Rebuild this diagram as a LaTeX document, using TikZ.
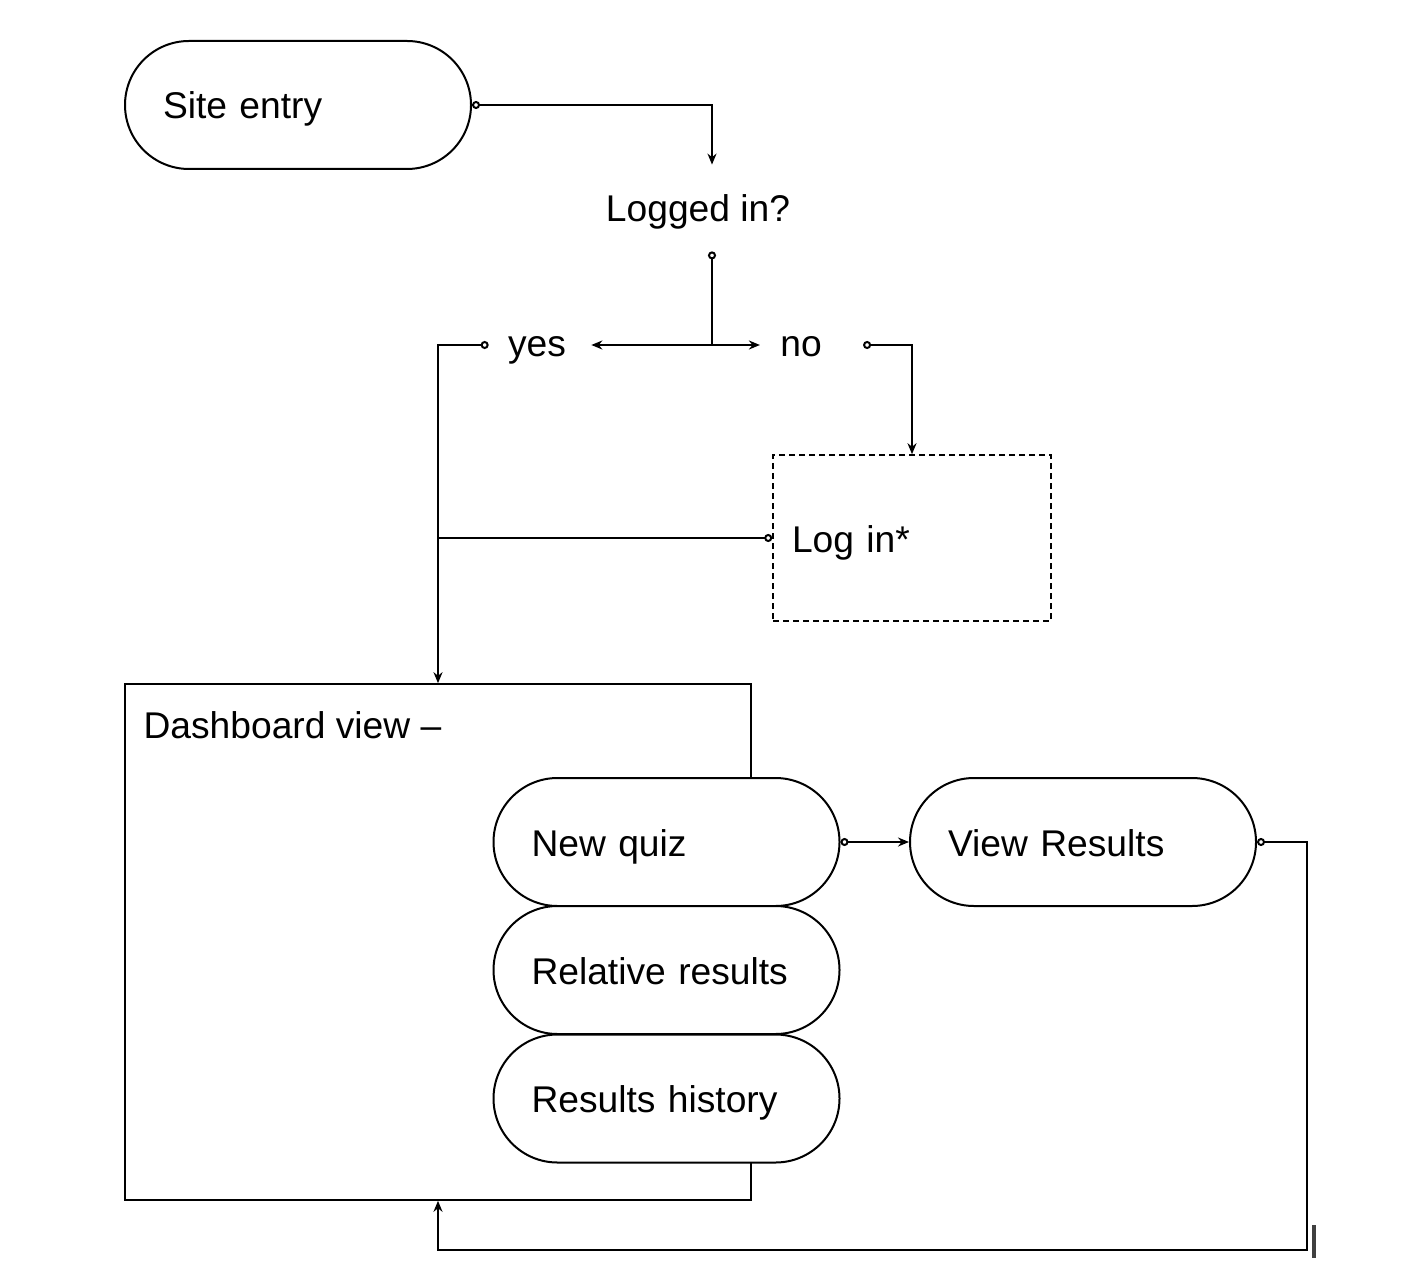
\documentclass[tikz,border=0pt]{standalone}
\usepackage{fontspec}
\setmainfont{Liberation Sans}
\usetikzlibrary{arrows.meta, positioning, calc}

\begin{document}
\begin{tikzpicture}[
        x=0.5pt, y=-0.5pt,
        every node/.style={font=\fontsize{18.6pt}{22pt}\selectfont, text height=16pt, text depth=2pt},
        pill/.style={rectangle, draw=black, line width=1pt, rounded corners=32pt, minimum width=173pt, minimum height=64pt, text width=135pt, inner xsep=19pt, align=left, fill=white},
        loginbox/.style={rectangle, draw=black, line width=0.8pt, dash pattern=on 3pt off 2pt, minimum width=139pt, minimum height=83pt, text width=120pt, inner xsep=9.5pt, align=left},
        panel/.style={rectangle, draw=black, line width=0.8pt, minimum width=313pt, minimum height=258pt, inner sep=0pt},
        plain/.style={inner sep=0pt},
        answer/.style={inner sep=0pt, text height=14pt, text depth=2pt},
        question/.style={inner sep=0pt, minimum height=43pt},
        tap/.style={{Circle[open, length=4pt]}-, line width=1pt},
        link/.style={{Circle[open, length=4pt]}-{Stealth[length=5.5pt, width=4.5pt]}, line width=1pt},
        arrow/.style={-{Stealth[length=5.5pt, width=4.5pt]}, line width=1pt}
    ]
    \useasboundingbox (0,0) rectangle (1422,1272);

    % Nodes
    \node[pill] (site) at (298,105) {Site entry};
    \node[question] (logged) at (698,208) {Logged in?};
    \coordinate (fork) at (712,345);
    \node[answer] (yes) at (537,345) {yes};
    \node[answer] (no) at (801,345) {no};
    \node[loginbox] (login) at (912,538) {Log in*};

    \node[panel] (dash) at (438,942) {};
    \node[plain, anchor=west] (dashlabel) at ($(dash.north west)+(19,41)$) {Dashboard view –};

    \node[pill] (newquiz) at (666.5,842) {New quiz};
    \node[pill] (relres) at (666.5,970) {Relative results};
    \node[pill] (history) at (666.5,1098.5) {Results history};
    \node[pill] (view) at (1083,842) {View Results};
    \coordinate (back) at (1307,1250);

    % Arrows
    \draw[link] (site.east) -| (logged.north -| fork);
    \draw[tap] (logged.south -| fork) -- (fork);
    \draw[arrow] (fork) -- ($(yes.east)+(25,0)$);
    \draw[arrow] (fork) -- ($(no.west)+(-20,0)$);
    \draw[link] ($(yes.west)+(-19,0)$) -| (dash.north);
    \draw[link] ($(no.east)+(41,0)$) -| (login.north);
    \draw[tap] (login.west) -- (login.west -| dash.north);
    \draw[link] (newquiz.east) -- (view.west);
    \draw[link] (view.east) -| (back) -| (dash.south);

    % cursor mark
    \draw[line width=2pt, black!75] (1313.5,1225) -- (1313.5,1258);

\end{tikzpicture}
\end{document}
